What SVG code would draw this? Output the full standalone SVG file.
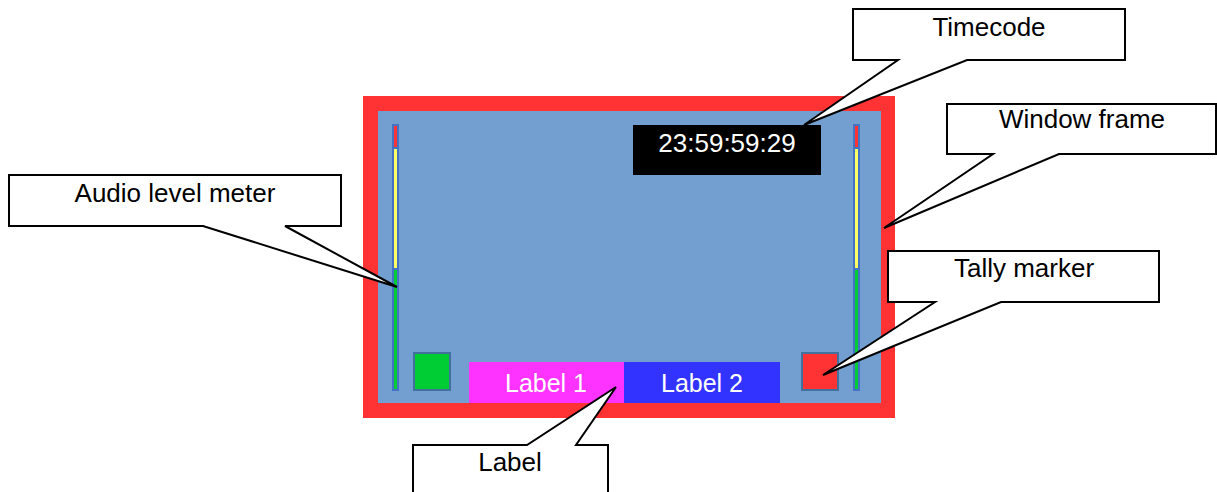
<svg xmlns="http://www.w3.org/2000/svg" width="1217" height="492" viewBox="0 0 1217 492">
<style>
.callout{fill:#FFFFFF;stroke:#000000;stroke-width:2;stroke-linejoin:miter}
.ct{font-family:"Liberation Sans",Arial,sans-serif;font-size:26px;fill:#000000;text-anchor:middle}
.wt{font-family:"Liberation Sans",Arial,sans-serif;fill:#FFFFFF;text-anchor:middle}
.seg{stroke:#4472C4;stroke-width:2}
.sq{stroke:#41719C;stroke-width:2}
</style>
<rect width="1217" height="492" fill="#FFFFFF"/>
<g id="window">
  <rect x="363" y="96" width="532" height="322" fill="#FF3333"/>
  <rect x="378" y="111" width="503" height="292" fill="#729FCF"/>
</g>
<g id="meter-left">
  <rect class="seg" x="393" y="125" width="5" height="23" fill="#FF3333"/>
  <rect class="seg" x="393" y="148" width="5" height="121" fill="#FFFF66"/>
  <rect class="seg" x="393" y="269" width="5" height="121" fill="#00CC33"/>
</g>
<g id="meter-right">
  <rect class="seg" x="854" y="125" width="5" height="23" fill="#FF3333"/>
  <rect class="seg" x="854" y="148" width="5" height="121" fill="#FFFF66"/>
  <rect class="seg" x="854" y="269" width="5" height="121" fill="#00CC33"/>
</g>
<g id="tally-green">
  <rect class="sq" x="414" y="353" width="36" height="37" fill="#00CC33"/>
</g>
<g id="tally-red">
  <rect class="sq" x="802" y="353" width="36" height="37" fill="#FF3333"/>
</g>
<g id="label1">
  <rect x="469" y="362" width="155" height="41" fill="#FF33FF"/>
  <text class="wt" x="546" y="392" font-size="25">Label 1</text>
</g>
<g id="label2">
  <rect x="624" y="362" width="156" height="41" fill="#3333FF"/>
  <text class="wt" x="702" y="392" font-size="25">Label 2</text>
</g>
<g id="timecode">
  <rect x="633" y="125" width="188" height="50" fill="#000000"/>
  <text class="wt" x="727" y="152" font-size="26">23:59:59:29</text>
</g>
<g id="callout-audio">
  <path class="callout" d="M9,175 H341 V226 H285 L397,287 L203,226 H9 Z"/>
  <text class="ct" x="175" y="202">Audio level meter</text>
</g>
<g id="callout-timecode">
  <path class="callout" d="M853,9 H1125 V60 H967 L804,125 L898,60 H853 Z"/>
  <text class="ct" x="989" y="36">Timecode</text>
</g>
<g id="callout-window">
  <path class="callout" d="M947,104 H1216 V154 H1059 L884,228 L993,154 H947 Z"/>
  <text class="ct" x="1082" y="128">Window frame</text>
</g>
<g id="callout-tally">
  <path class="callout" d="M888,251 H1159 V302 H1001 L823,375 L935,302 H888 Z"/>
  <text class="ct" x="1024" y="277">Tally marker</text>
</g>
<g id="callout-label">
  <path class="callout" d="M413,445 H527 L616,387 L576,445 H608 V500 H413 Z"/>
  <text class="ct" x="510" y="471">Label</text>
</g>
</svg>
